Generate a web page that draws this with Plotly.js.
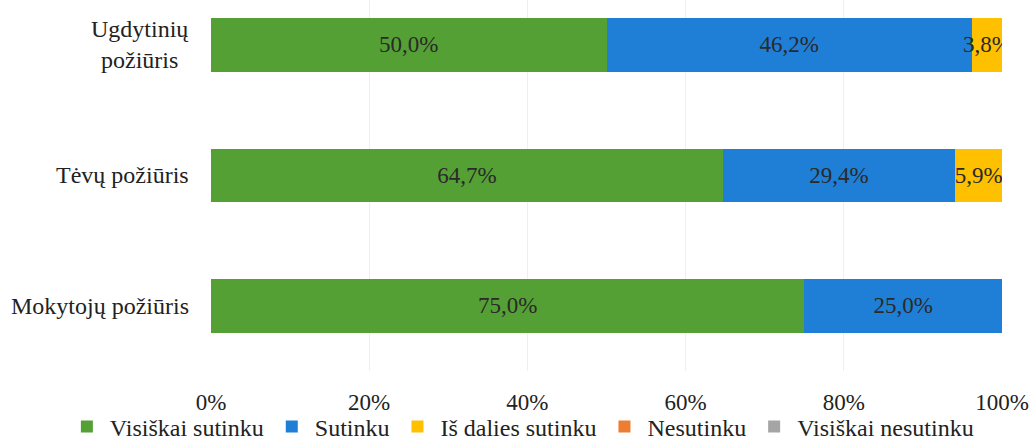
<!DOCTYPE html>
<html>
<head>
<meta charset="utf-8">
<script src="https://cdn.plot.ly/plotly-3.0.1.min.js"></script>
<style>html,body{margin:0;padding:0;background:#fff;}#chart{width:1032px;height:441px;}</style>
</head>
<body>
<div id="chart"></div>
<script>
var categories = ["Mokytojų požiūris", "Tėvų požiūris", "Ugdytinių<br>požiūris"];
var seriesNames = ["Visiškai sutinku", "Sutinku", "Iš dalies sutinku", "Nesutinku", "Visiškai nesutinku"];
var visiskaiSutinku = [75.0, 64.7, 50.0];
var sutinku = [25.0, 29.4, 46.2];
var isDaliesSutinku = [0, 5.9, 3.8];
var nesutinku = [0, 0, 0];
var visiskaiNesutinku = [0, 0, 0];
var xTickVals = [0, 20, 40, 60, 80, 100];
var xTickText = ["0%", "20%", "40%", "60%", "80%", "100%"];

var SERIF = '"Liberation Serif", "DejaVu Serif", "Times New Roman", serif';
var colors = ["#55a034", "#1f7fd6", "#ffc000", "#ed7d31", "#a5a5a5"];
var allSeries = [visiskaiSutinku, sutinku, isDaliesSutinku, nesutinku, visiskaiNesutinku];

function fmt(v) { return v > 0 ? v.toFixed(1).replace('.', ',') + '%' : ''; }

var traces = allSeries.map(function (vals, i) {
  return {
    type: 'bar',
    orientation: 'h',
    name: seriesNames[i],
    y: categories,
    x: vals,
    width: 0.41,
    marker: {color: colors[i]},
    text: vals.map(fmt),
    textposition: 'inside',
    insidetextanchor: 'middle',
    textangle: 0,
    constraintext: 'none',
    textfont: {family: SERIF, size: 23, color: '#2a2a2a'},
    hoverinfo: 'x+name'
  };
});

var annotations = categories.map(function (c) {
  return {
    xref: 'paper', yref: 'y', x: 0, y: c,
    xanchor: 'right', yanchor: 'middle', xshift: -20,
    text: c, showarrow: false, align: 'center',
    font: {family: SERIF, size: 24, color: '#222'}
  };
});

var layout = {
  width: 1032, height: 441,
  margin: {l: 211, r: 30, t: 0, b: 70, autoexpand: false},
  barmode: 'stack',
  paper_bgcolor: '#fff', plot_bgcolor: '#fff',
  font: {family: SERIF, size: 24, color: '#222'},
  xaxis: {
    range: [0, 100], tickvals: xTickVals, ticktext: xTickText,
    showgrid: true, gridcolor: '#efefef', gridwidth: 1,
    zeroline: false, showline: false, ticks: '',
    ticklabelstandoff: 15,
    tickfont: {family: SERIF, size: 23, color: '#222'}
  },
  yaxis: {
    type: 'category', range: [-0.5, 2.345],
    showgrid: false, zeroline: false, showline: false, ticks: '',
    showticklabels: false
  },
  annotations: annotations,
  legend: {
    orientation: 'h', xref: 'paper', yref: 'paper',
    x: -0.186, xanchor: 'left',
    y: -0.09, yanchor: 'top',
    bgcolor: 'rgba(0,0,0,0)',
    font: {family: SERIF, size: 24, color: '#222'},
    traceorder: 'normal', itemwidth: 36, tracegroupgap: 0
  },
  showlegend: true
};

Plotly.newPlot('chart', traces, layout, {displayModeBar: false, staticPlot: true});
</script>
</body>
</html>
